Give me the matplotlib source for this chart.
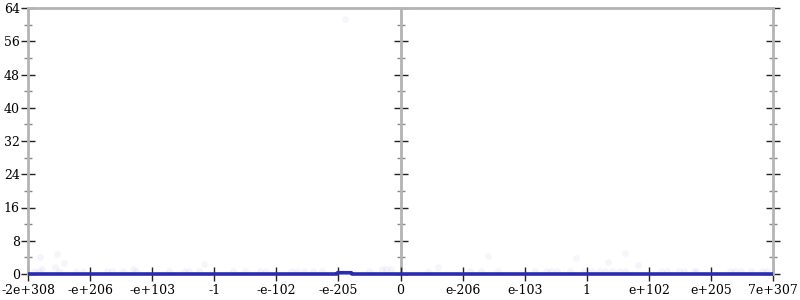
import matplotlib
matplotlib.use("Agg")
import matplotlib.pyplot as plt
from matplotlib.ticker import MultipleLocator

# x positions are in tick-index units (each tick = one step on the compressed axis)
x_tick_pos = [-6, -5, -4, -3, -2, -1, 0, 1, 2, 3, 4, 5, 6]
x_tick_labels = ["-2e+308", "-e+206", "-e+103", "-1", "-e-102", "-e-205", "0",
                 "e-206", "e-103", "1", "e+102", "e+205", "7e+307"]
y_ticks = [0, 8, 16, 24, 32, 40, 48, 56, 64]

line_x = [-6, -1.02, -1.015, -0.79, -0.785, 6]
line_y = [0, 0, 0.3, 0.3, 0, 0]

pts_x = [-5.80, -5.53, -5.42, -5.56, -5.78, -5.90, -5.83, -5.50, -5.22, -5.12,
         -4.73, -4.64, -4.47, -4.31, -4.26, -3.73, -3.48, -3.40, -3.24, -3.16,
         -2.69, -2.50, -2.26, -2.17, -1.77, -1.67, -1.56, -1.41, -1.26, -0.89,
         -0.50, -0.29, -0.23, -0.15, 0.44, 0.60, 1.12, 1.30, 1.41, 1.57,
         2.16, 2.34, 2.43, 2.52, 2.73, 2.82, 2.96, 3.09, 3.19, 3.30,
         3.34, 3.41, 3.52, 3.61, 3.62, 3.83, 4.19, 4.29, 4.48, 4.56,
         4.72, 4.76, 5.30, 5.38, 5.49, 5.65, 5.83, 5.90]
pts_y = [4.2, 4.8, 2.7, 1.8, 1.3, 0.7, 0.7, 0.7, 0.7, 0.7,
         0.7, 0.7, 0.7, 1.1, 0.7, 0.7, 0.7, 0.7, 0.7, 2.3,
         0.7, 0.7, 0.7, 0.7, 0.7, 0.7, 0.7, 0.7, 0.7, 61.3,
         0.7, 1.1, 1.1, 1.1, 0.7, 1.8, 0.7, 0.7, 4.3, 0.7,
         0.7, 0.7, 0.7, 0.7, 0.7, 3.9, 0.7, 0.7, 0.7, 0.7,
         2.9, 0.7, 0.7, 5.0, 0.7, 2.1, 0.7, 0.7, 0.7, 0.7,
         0.7, 0.7, 0.7, 0.7, 0.7, 0.7, 0.7, 0.7]

BLUE = "#2b2bb0"
GREY = "#b4b4b4"
FONT = "DejaVu Serif"
FS = 9

fig = plt.figure(figsize=(8, 3), dpi=100)
ax = fig.add_axes([28/800, 1-274/300, (773-28)/800, (274-8)/300])

ax.scatter(pts_x, pts_y, s=24, color=BLUE, alpha=0.045, linewidths=0, zorder=2)
ax.plot(line_x, line_y, color=BLUE, lw=2.6, clip_on=False, zorder=4,
        solid_capstyle="butt")

ax.set_xlim(-6, 6)
ax.set_ylim(0, 64)

for side in ["left", "top", "right"]:
    ax.spines[side].set_color(GREY)
    ax.spines[side].set_linewidth(2)
ax.spines["bottom"].set_visible(False)
ax.axvline(0, color=GREY, lw=2, zorder=1)

ax.set_xticks(x_tick_pos)
ax.set_xticklabels(x_tick_labels, fontfamily=FONT, fontsize=FS)
ax.set_yticks(y_ticks)
ax.set_yticklabels([str(v) for v in y_ticks], fontfamily=FONT, fontsize=FS)
ax.yaxis.set_minor_locator(MultipleLocator(4))

ax.tick_params(axis="x", direction="inout", length=10, width=1, color="#222222",
               pad=2, labelcolor="black")
ax.tick_params(axis="y", which="major", direction="inout", length=10, width=1,
               color="#222222", pad=1, right=True)
ax.tick_params(axis="y", which="minor", direction="inout", length=6, width=1,
               color="#888888", right=True)

sec = ax.secondary_yaxis(0.5)
sec.set_yticks(y_ticks)
sec.set_yticklabels([])
sec.yaxis.set_minor_locator(MultipleLocator(4))
sec.tick_params(which="major", direction="inout", length=10, width=1, color="#222222")
sec.tick_params(which="minor", direction="inout", length=6, width=1, color="#888888")
sec.spines["left"].set_visible(False)

fig.savefig("out.png", dpi=100)
